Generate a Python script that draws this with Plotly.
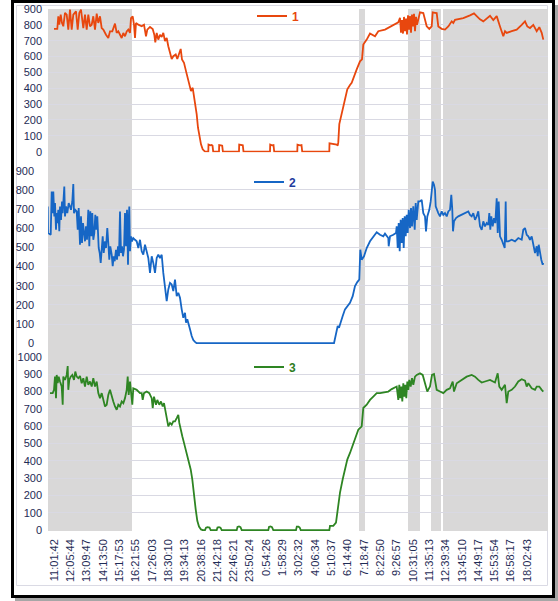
import plotly.graph_objects as go

# ---------------- data ----------------
tick_labels = ["11:01:42", "12:05:44", "13:09:47", "14:13:50", "15:17:53", "16:21:55", "17:26:03",
               "18:30:10", "19:34:13", "20:38:16", "21:42:18", "22:46:21", "23:50:24", "0:54:26",
               "1:58:29", "3:02:32", "4:06:34", "5:10:37", "6:14:40", "7:18:47", "8:22:50",
               "9:26:57", "10:31:05", "11:35:13", "12:39:34", "13:45:10", "14:49:17", "15:53:54",
               "16:58:17", "18:02:43"]
samples_per_label = 16.31

# shaded periods (sample index)
bands = [(-6, 78), (305, 311), (354, 366), (377, 387), (389, 494)]

s1_x = [0, 3.3, 4.3, 5.3, 6.7, 8, 9.3, 11, 12.7, 14.3, 16, 17.7, 19.3, 22, 23.7, 25.3, 27, 29.3, 31,
        32.7, 34.3, 36, 37.7, 39.3, 41, 42.7, 44.3, 46, 47.7, 49.3, 52, 54.3, 56, 58.3, 61, 62.7, 64.3,
        66, 67.7, 69.3, 71, 72.7, 74.3, 76, 77, 78.7, 80, 81, 82, 84.3, 87.7, 90, 92, 93.3, 96, 98.7,
        100.3, 101.3, 102.7, 104.3, 106, 107.7, 109.3, 111, 112.7, 114.3, 116, 117.7, 119.3, 121.7,
        123.3, 125, 126.7, 128, 130, 132, 133.7, 135.3, 137, 138.7, 140, 141.3, 142.7, 144, 145.3, 147,
        148.7, 151,
        154.3, 154.5, 156.5, 157.5, 158.5, 159.2,
        165, 165.2, 167, 168.2, 168.9,
        185, 185.2, 187.5, 188.8, 189.5,
        216, 216.2, 218, 219.5, 220.2,
        243.3, 243.5, 246, 247.5, 248.2,
        275.3, 275.5, 281, 282.7, 283.7, 284.3, 285.3, 287.7, 291, 293.3, 296, 297.7, 302.7, 306, 308,
        309.3, 312.7, 316, 321, 324.3, 331, 337.7, 344.3,
        346, 347, 348, 349, 350, 351, 352, 353, 354, 355, 356, 357, 358, 359, 360, 361, 362, 363,
        366, 369.3, 372.7, 375.3, 377.7, 378.7, 381, 382.7, 384.3, 387.7, 391, 394.3, 397.7, 399.3,
        401, 406, 409.3, 416, 420, 422.7, 426, 429.3, 432.7, 436, 439.3, 442.7, 446, 449.3, 451,
        452.7, 457.7, 462.7, 467.7, 471, 473.3, 476, 479.3, 482.7, 485.3, 487.7, 489.3]
s1_y = [774, 774, 854, 801, 864, 812, 791, 875, 864, 770, 896, 770, 864, 885, 770, 875, 896, 780, 864,
        770, 864, 791, 801, 854, 770, 871, 812, 854, 780, 770, 738, 717, 759, 759, 808, 749, 759,
        732, 717, 749, 728, 759, 770, 749, 843, 854, 801, 717, 812, 801, 791, 801, 728, 770, 787, 774,
        738, 690, 749, 707, 738, 724, 749, 697, 717, 665, 623, 585, 602, 613,
        585, 623, 648, 581, 560, 508, 466, 413, 382, 403, 350, 308, 235, 151, 99, 46,
        15, 0,
        0, 45, 40, 42, 38, 0,
        0, 42, 40, 38, 0,
        0, 44, 41, 40, 0,
        0, 45, 40, 42, 0,
        0, 44, 40, 42, 0,
        0, 52, 48, 45, 38, 60, 174, 236, 331, 393, 420, 435, 519, 570, 582,
        676, 707, 745, 728, 760, 770, 791, 816,
        845, 750, 830, 745, 850, 760, 840, 740, 860, 770, 855, 750, 865, 790, 870, 760, 850, 800,
        879, 874, 791, 774, 790, 879, 876, 874, 790, 775, 770, 790, 822, 812,
        832, 838, 843, 860, 872, 855, 835, 822, 840, 857, 830, 855, 790, 728, 760,
        749, 760, 770, 800, 822, 790, 780, 800, 760, 785, 750, 707]

s2_x = [-6.3, -6, -3.3, -2.3, -1.3, -0.7, 0.3, 1, 2, 2.7, 3.3, 4.3, 5.3, 6, 7, 8, 8.7, 9.7, 10.3, 11,
        12, 13.3, 14.7, 16, 17, 18.3, 19.3, 20, 21.3, 22.7, 23.7, 24.7, 26, 27, 28, 29, 30, 31, 32, 33,
        34.3, 35.3, 36.3, 37.3, 38.3, 39.3, 40.3, 41.3, 42.3, 43.3, 44.7, 45.7, 46.7, 47.7, 48.7, 49.7,
        51, 52, 53.3, 54.3, 55.3, 56.3, 57.7, 58.7, 59.7, 60.7, 62, 63, 64, 65, 66, 67, 68, 69, 70, 71,
        72, 73, 74, 74.7, 75.3, 76, 77, 78, 79.3, 81, 82.7, 84.3, 86, 87.7, 89.3, 91, 92.7, 94.3, 96,
        97.7, 99.3, 101, 102.7, 104.3, 106, 107.7, 109.3, 111, 112.7, 114.3, 116, 117.7, 119.3, 121,
        122.7, 124.3, 126, 127.7, 129.3, 131, 132, 133.3, 134.7, 136, 137.7, 139.3, 141, 142.7,
        280, 282, 283.7, 285, 286.7, 288.7, 291, 293.3, 296, 298.7, 301, 303.3, 305.3, 306.3, 307.7,
        310, 312.7, 316, 319.3, 322.7, 326, 329.3, 331, 334.3, 334.7, 336, 339.3, 342, 342.7, 343.7,
        344.7, 345.7, 346.7, 347.7, 348.7, 349.7, 350.7, 351.7, 352.7, 353.7, 354.7, 356, 357, 358,
        359.3, 360.7, 361.7, 362.7, 364.3, 366, 367.7, 369.3, 371, 372, 373.3, 375.3, 376.7, 377.7,
        378.7, 380, 381, 381.7, 382.7, 384.3, 386, 387.7, 389.3, 391, 392.7, 394.3, 396, 397.3, 398.3,
        399, 400, 402, 404.3, 407.7, 411, 414.3, 416, 417.7, 419.3, 421, 422.7, 424.3, 426, 427.7,
        429.3, 431, 432.7, 434.3, 435.3, 436.3, 437.3, 438.7, 440, 441.3, 442.7, 443.7, 444.7, 446,
        447.7, 449.3, 450.7, 451.7, 452.3, 454.3, 457.7, 461, 464.3, 467.7, 469.3, 471, 472.7, 474.3,
        476, 477.7, 479.3, 481, 482.7, 483.7, 484.7, 486, 487.3, 488.7, 489.3]
s2_y = [714, 575, 566, 792, 679, 792, 662, 731, 592, 679, 627, 696, 584, 714, 644, 740, 679, 766, 818,
        662, 714, 679, 731, 714, 696, 740, 831, 679, 696, 688, 592, 705, 514, 662, 523, 627, 558, 532,
        610, 540, 696, 506, 688, 558, 679, 540, 575, 670, 592, 662, 497, 471, 419, 506, 558, 471,
        532, 497, 601, 523, 436, 506, 462, 402, 454, 428, 488, 436, 506, 454, 688, 471, 506, 454, 488,
        679, 506, 696, 410, 644, 714, 480, 558, 532, 549, 540, 532, 497, 540, 480, 462, 514, 480, 445,
        367, 454, 419, 367, 445, 462, 445, 462, 367, 289, 220, 281, 315, 307, 272, 332, 246, 263, 237,
        177, 133, 159, 107, 125, 90, 73, 38, 17, 7, 0,
        0, 55, 90, 81, 116, 142, 177, 194, 211, 246, 298, 319, 333, 488, 436,
        454, 497, 532, 558, 579, 566, 558, 572, 549, 506, 558, 566, 575, 610, 497,
        627, 480, 644, 523, 653, 497, 662, 558, 670, 575, 696, 601, 705, 610,
        714, 592, 731, 644, 740, 740, 748, 679, 662, 584, 662, 696, 740, 792,
        844, 827, 801, 714, 696, 679, 662, 688, 670, 679, 662, 688, 696, 774, 696,
        584, 636, 653, 662, 670, 679, 688, 670, 662, 679, 644, 662, 688, 610, 592,
        636, 610, 627, 618, 679, 592, 662, 610, 653, 627, 757, 575, 740, 558,
        540, 514, 497, 740, 532, 532, 540, 532, 549, 540, 592, 601, 566, 558,
        540, 558, 514, 471, 506, 454, 514, 471, 436, 410, 419]

s3_x = [-4, -1.3, 0, 1, 2, 2.7, 3.7, 4.7, 6, 7.7, 8.7, 9.3, 11, 12.7, 13.7, 14.3, 15.3, 16.7, 18.3, 20,
        21.3, 22.7, 24.3, 26, 27.7, 29.3, 31, 32.7, 34.3, 36, 37.7, 39.3, 41, 42.7, 44.3, 46, 47.7,
        49.3, 51, 52.7, 54.3, 56, 57.7, 59.3, 61, 62.7, 64.3, 66, 67.7, 69.3, 71, 72.7, 73.7, 74.7, 76,
        77, 78.3, 79.3, 82.7, 86, 87.7, 88.7, 90, 92.7, 95.3, 97.7, 98.7, 100, 102, 103.3, 105.3, 107,
        108.7, 110, 111.3, 112.7, 114.3, 116, 117.7, 119.3, 121, 122.7, 124.3, 125.3, 126.7, 128.3,
        130, 132, 133.7, 135, 136.7, 138.3, 140, 141.7, 143.3, 145, 147, 148.7,
        151, 152, 153.5, 155.5, 156.7,
        162.7, 163.5, 165, 166.5, 167.7,
        182.7, 183.5, 185, 186.5, 187.7,
        214.3, 215, 216.5, 218, 219.3,
        242, 242.8, 244.5, 245.7, 246.7,
        275.3, 276, 279.3, 282, 284.3, 286, 288.7, 291, 293.3, 296, 299.3, 302, 304.3, 307.7, 309.3,
        312.7, 316, 319.3, 322.7, 326, 331, 334.3, 337.7, 342.7, 344.3, 345.3, 346.3, 347.3, 348.3,
        349.3, 350.3, 351.3, 352.3, 353.3, 354.3, 355.3, 356.7, 358, 359.3, 361, 362.7, 366, 368.7,
        371, 373.3, 376, 378, 380, 381.7, 382.7, 386, 389.3, 392.7, 396, 398.7, 400, 402.7, 407.7,
        412.7, 417.7, 421, 424.3, 427.7, 431, 436, 441, 443.7, 445.3, 447.7, 451, 452.7, 454.3, 457.7,
        461, 464.3, 467.7, 471, 472.7, 474.3, 477.7, 481, 482.7, 485.3, 487.7, 489.3]
s3_y = [790, 790, 809, 885, 761, 895, 847, 885, 857, 828, 723, 885, 866, 895, 946, 809, 866, 885, 895,
        866, 914, 885, 876, 889, 847, 876, 828, 885, 838, 857, 828, 876, 828, 857, 790, 761, 790,
        751, 713, 723, 780, 809, 770, 742, 713, 694, 723, 713, 742, 732, 761, 809, 885, 780, 857,
        809, 723, 818, 809, 790, 790, 751, 790, 799, 790, 761, 704, 770, 723, 751, 723, 742,
        713, 732, 685, 646, 598, 618, 608, 627, 627, 646, 665, 618, 589, 541,
        503, 455, 426, 398, 350, 293, 197, 120, 54, 21, 4, 0,
        0, 14, 17, 15, 0,
        0, 15, 17, 14, 0,
        0, 18, 21, 17, 0,
        0, 18, 21, 17, 0,
        0, 20, 20, 15, 0,
        0, 25, 25, 44, 140, 216, 293, 350, 407, 445, 503, 541, 579, 598, 704,
        723, 751, 770, 790, 790, 794, 799, 813, 828, 751, 838, 761, 828, 742,
        847, 770, 838, 761, 857, 809, 866, 828, 876, 838, 885, 895, 904, 895,
        847, 799, 828, 895, 900, 828, 809, 799, 790, 809, 818, 857, 799, 847, 866,
        885, 895, 885, 866, 851, 857, 866, 851, 904, 828, 809, 838, 732, 799, 809,
        828, 857, 870, 862, 828, 847, 818, 809, 828, 828, 809, 799]

series_names = ["1", "2", "3"]
line_colors = ["#E8470E", "#1666C5", "#2E8523"]
legend_text_colors = ["#E8470E", "#1F3C9E", "#2E7D22"]

# ---------------- figure ----------------
W, H = 558, 601
ML, MR, MT, MB = 48, 10, 9, 70
PW, PH = W - ML - MR, H - MT - MB


def pxx(p):
    return (p - ML) / PW


def pxy(p):
    return (H - MB - p) / PH


tick_pos = [round(0.2 + i * samples_per_label, 2) for i in range(len(tick_labels))]

fig = go.Figure()
xs = [s1_x, s2_x, s3_x]
ys = [s1_y, s2_y, s3_y]
for i in range(3):
    fig.add_trace(go.Scatter(
        x=xs[i], y=ys[i], mode="lines", name=series_names[i],
        line=dict(color=line_colors[i], width=1.8),
        xaxis="x", yaxis="y" if i == 0 else f"y{i + 1}",
        legend="legend" if i == 0 else f"legend{i + 1}",
        hoverinfo="skip",
    ))

navy = "#1F2C56"
tickfont = dict(family="Liberation Sans, Arial, sans-serif", size=11, color=navy)
grid = "#D9D9E3"

shapes = []
# frame: shadow, black border, inner light border
shapes.append(dict(type="rect", xref="paper", yref="paper", layer="below",
                   x0=pxx(15), x1=pxx(558), y0=pxy(5), y1=pxy(601),
                   fillcolor="#A6A6A6", line=dict(width=0)))
shapes.append(dict(type="rect", xref="paper", yref="paper", layer="below",
                   x0=pxx(12.5), x1=pxx(553.5), y0=pxy(1.5), y1=pxy(596.5),
                   fillcolor="white", line=dict(color="black", width=3)))
shapes.append(dict(type="rect", xref="paper", yref="paper", layer="below",
                   x0=pxx(16.5), x1=pxx(547.5), y0=pxy(5.5), y1=pxy(585.5),
                   fillcolor="rgba(0,0,0,0)", line=dict(color="#DADAE4", width=1)))
for b0, b1 in bands:
    shapes.append(dict(type="rect", xref="x", yref="paper", layer="below",
                       x0=b0, x1=b1, y0=0, y1=1,
                       fillcolor="#D9D8D8", line=dict(width=0)))

yax_common = dict(showgrid=True, gridcolor=grid, gridwidth=1, zeroline=False, showline=False,
                  ticks="", tickfont=tickfont, anchor="x", fixedrange=True, automargin=False)

legend_y = [pxy(16), pxy(182), pxy(367)]
legend_x = [pxx(252), pxx(249), pxx(249)]
legends = {}
for i in range(3):
    key = "legend" if i == 0 else f"legend{i + 1}"
    legends[key] = dict(x=legend_x[i], y=legend_y[i], xanchor="left", yanchor="middle",
                        bgcolor="rgba(0,0,0,0)", borderwidth=0, itemwidth=30,
                        font=dict(family="Liberation Sans, Arial, sans-serif", size=12,
                                  color=legend_text_colors[i], weight="bold"))

fig.update_layout(
    template="none",
    width=W, height=H, autosize=False,
    margin=dict(l=ML, r=MR, t=MT, b=MB, pad=0, autoexpand=False),
    paper_bgcolor="white", plot_bgcolor="rgba(0,0,0,0)",
    showlegend=True,
    xaxis=dict(range=[-6, 494], tickmode="array", tickvals=tick_pos, ticktext=tick_labels,
               tickangle=-90, showgrid=False, zeroline=False, showline=False, ticks="",
               tickfont=tickfont, anchor="y3", ticklabelstandoff=5, fixedrange=True,
               automargin=False),
    yaxis=dict(domain=[0.7255, 1.0], range=[-4, 900], dtick=100, ticklabelstandoff=5, **yax_common),
    yaxis2=dict(domain=[0.3582, 0.6901], range=[-4, 900], dtick=100, ticklabelstandoff=13, **yax_common),
    yaxis3=dict(domain=[0.0, 0.3339], range=[-5, 1000], dtick=100, ticklabelstandoff=5, **yax_common),
    shapes=shapes,
    **legends,
)

fig.write_html("out.html", config={"displayModeBar": False},
               post_script="document.body.style.margin='0';document.body.style.overflow='hidden';")
